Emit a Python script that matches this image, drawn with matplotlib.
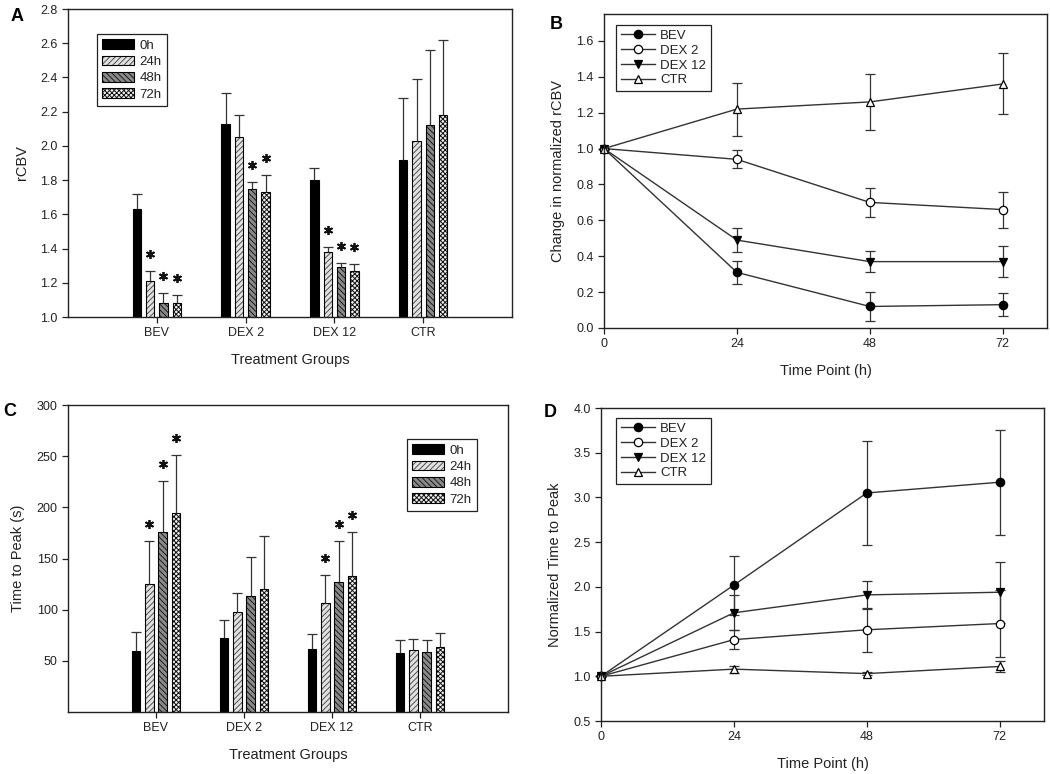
import matplotlib
matplotlib.use("Agg")
import matplotlib.pyplot as plt
from matplotlib.patches import Patch
from matplotlib.lines import Line2D
import numpy as np

plt.rcParams["font.family"] = ["Liberation Sans", "DejaVu Sans"]
plt.rcParams["hatch.linewidth"] = 0.7
plt.rcParams["axes.linewidth"] = 1.0

groups = ["BEV", "DEX 2", "DEX 12", "CTR"]
times = ["0h", "24h", "48h", "72h"]
hours = [0, 24, 48, 72]

# Panel A - rCBV (bar + upper error)
rcbv_0h = [1.63, 2.13, 1.80, 1.92]
rcbv_24h = [1.21, 2.05, 1.38, 2.03]
rcbv_48h = [1.08, 1.75, 1.29, 2.12]
rcbv_72h = [1.08, 1.73, 1.27, 2.18]
rcbv_err_0h = [0.09, 0.18, 0.07, 0.36]
rcbv_err_24h = [0.06, 0.13, 0.03, 0.36]
rcbv_err_48h = [0.06, 0.04, 0.025, 0.44]
rcbv_err_72h = [0.05, 0.10, 0.04, 0.44]
rcbv_sig_24h = [1, 0, 1, 0]
rcbv_sig_48h = [1, 1, 1, 0]
rcbv_sig_72h = [1, 1, 1, 0]

# Panel C - time to peak (s)
ttp_0h = [60, 72, 62, 58]
ttp_24h = [125, 98, 107, 61]
ttp_48h = [176, 113, 127, 59]
ttp_72h = [194, 120, 133, 64]
ttp_err_0h = [18, 18, 14, 12]
ttp_err_24h = [42, 18, 27, 10]
ttp_err_48h = [50, 38, 40, 11]
ttp_err_72h = [57, 52, 43, 13]
ttp_sig_24h = [1, 0, 1, 0]
ttp_sig_48h = [1, 0, 1, 0]
ttp_sig_72h = [1, 0, 1, 0]

# Panel B - change in normalized rCBV
b_bev = [1.0, 0.31, 0.12, 0.13]
b_dex2 = [1.0, 0.94, 0.70, 0.66]
b_dex12 = [1.0, 0.49, 0.37, 0.37]
b_ctr = [1.0, 1.22, 1.26, 1.36]
b_bev_err = [0, 0.066, 0.08, 0.065]
b_dex2_err = [0, 0.05, 0.08, 0.10]
b_dex12_err = [0, 0.067, 0.057, 0.087]
b_ctr_err = [0, 0.148, 0.158, 0.17]

# Panel D - normalized time to peak
d_bev = [1.0, 2.02, 3.05, 3.17]
d_dex2 = [1.0, 1.41, 1.52, 1.59]
d_dex12 = [1.0, 1.71, 1.91, 1.94]
d_ctr = [1.0, 1.08, 1.03, 1.11]
d_bev_err = [0, 0.33, 0.585, 0.587]
d_dex2_err = [0, 0.106, 0.245, 0.37]
d_dex12_err = [0, 0.196, 0.155, 0.34]
d_ctr_err = [0, 0.04, 0.02, 0.066]

TXT = "#222222"
W, H = 1050, 774

# bar styles: face, hatch colour, hatch
bar_styles = [
    ("black", "black", None),
    ("#e2e2e2", "#505050", "//////"),
    ("#8a8a8a", "#1a1a1a", "\\\\\\\\\\\\"),
    ("#f0f0f0", "#111111", "xxxxxxx"),
]

fig = plt.figure(figsize=(10.5, 7.74), dpi=100)


def fig_rect(l, t, r, b):
    return [l / W, 1 - b / H, (r - l) / W, (b - t) / H]


def style_axes(ax):
    ax.tick_params(direction="out", length=4, width=0.9, labelsize=9,
                   labelcolor=TXT, colors="#222222")
    for s in ax.spines.values():
        s.set_color("#222222")


def finish_legend(leg):
    leg.get_frame().set_linewidth(0.9)
    for t in leg.get_texts():
        t.set_color(TXT)


def bar_panel(ax, series, errs, sigs, ylim, yticks, ylabel, legend_at):
    x = np.arange(1, len(groups) + 1)
    offsets = [-0.225, -0.075, 0.075, 0.225]
    yr = ylim[1] - ylim[0]
    handles = []
    for i, (vals, err) in enumerate(zip(series, errs)):
        face, hcol, hatch = bar_styles[i]
        xs = x + offsets[i]
        vals = np.array(vals, dtype=float)
        err = np.array(err, dtype=float)
        ax.bar(xs, vals, 0.095, color=face, edgecolor=hcol, hatch=hatch, linewidth=0)
        ax.bar(xs, vals, 0.095, fill=False, edgecolor="black", linewidth=0.8)
        ax.vlines(xs, vals, vals + err, color="#333333", linewidth=0.9)
        ax.plot(xs, vals + err, ls="none", marker="_", markersize=7,
                markeredgewidth=0.9, color="#333333")
        if i > 0:
            flag = np.array(sigs[i - 1]) == 1
            ax.plot(xs[flag], (vals + err)[flag] + 0.056 * yr, ls="none",
                    marker=(6, 2, 0), markersize=6.5, markeredgewidth=1.3,
                    color="#111111")
        handles.append((Patch(facecolor=face, edgecolor=hcol, hatch=hatch, linewidth=0),
                        Patch(fill=False, edgecolor="black", linewidth=0.8)))
    ax.set_xlim(0, 5)
    ax.set_ylim(*ylim)
    ax.set_xticks(x)
    ax.set_xticklabels(groups)
    ax.set_yticks(yticks)
    ax.set_xlabel("Treatment Groups", fontsize=10.5, color=TXT, labelpad=10)
    ax.set_ylabel(ylabel, fontsize=10.5, color=TXT, labelpad=8)
    style_axes(ax)
    leg = ax.legend(handles, times, loc="upper left",
                    bbox_to_anchor=(legend_at[0] / W, 1 - legend_at[1] / H),
                    bbox_transform=fig.transFigure, borderaxespad=0,
                    fontsize=9.5, handlelength=2.4, handleheight=0.75,
                    labelspacing=0.3, handletextpad=0.4, borderpad=0.4,
                    fancybox=False, framealpha=1, edgecolor="#222222")
    finish_legend(leg)


def line_panel(ax, series, errs, ylim, yticks, ylabel, legend_at):
    markers = [("o", "black"), ("o", "white"), ("v", "black"), ("^", "white")]
    handles = []
    for (vals, err), (m, fc), name in zip(zip(series, errs), markers, groups):
        ax.errorbar(hours, vals, yerr=err, color="#333333", linewidth=1.0,
                    marker=m, markersize=6, markerfacecolor=fc,
                    markeredgecolor="black", markeredgewidth=0.9,
                    ecolor="#333333", elinewidth=0.9, capsize=3.5,
                    capthick=0.9, clip_on=False)
        handles.append(Line2D([], [], color="#333333", linewidth=1.0, marker=m,
                              markersize=6, markerfacecolor=fc,
                              markeredgecolor="black", markeredgewidth=0.9))
    ax.set_xlim(0, 80)
    ax.set_ylim(*ylim)
    ax.set_xticks(hours)
    ax.set_yticks(yticks)
    ax.set_xlabel("Time Point (h)", fontsize=10.5, color=TXT, labelpad=10)
    ax.set_ylabel(ylabel, fontsize=10.5, color=TXT, labelpad=8)
    style_axes(ax)
    leg = ax.legend(handles, groups, loc="upper left",
                    bbox_to_anchor=(legend_at[0] / W, 1 - legend_at[1] / H),
                    bbox_transform=fig.transFigure, borderaxespad=0,
                    fontsize=9.5, handlelength=2.6, labelspacing=0.2,
                    handletextpad=0.4, borderpad=0.35, fancybox=False,
                    framealpha=1, edgecolor="#222222")
    finish_legend(leg)


fmt1 = matplotlib.ticker.FormatStrFormatter("%.1f")

axA = fig.add_axes(fig_rect(68, 9, 512, 317))
bar_panel(axA, [rcbv_0h, rcbv_24h, rcbv_48h, rcbv_72h],
          [rcbv_err_0h, rcbv_err_24h, rcbv_err_48h, rcbv_err_72h],
          [rcbv_sig_24h, rcbv_sig_48h, rcbv_sig_72h],
          (1.0, 2.8), np.arange(1.0, 2.81, 0.2), "rCBV", (97, 34))
axA.yaxis.set_major_formatter(fmt1)

axB = fig.add_axes(fig_rect(604, 14, 1047, 328))
line_panel(axB, [b_bev, b_dex2, b_dex12, b_ctr],
           [b_bev_err, b_dex2_err, b_dex12_err, b_ctr_err],
           (0, 1.75), np.arange(0, 1.61, 0.2), "Change in normalized rCBV",
           (616, 25))
axB.yaxis.set_major_formatter(fmt1)

axC = fig.add_axes(fig_rect(68, 405, 508, 712))
bar_panel(axC, [ttp_0h, ttp_24h, ttp_48h, ttp_72h],
          [ttp_err_0h, ttp_err_24h, ttp_err_48h, ttp_err_72h],
          [ttp_sig_24h, ttp_sig_48h, ttp_sig_72h],
          (0, 300), np.arange(50, 301, 50), "Time to Peak (s)", (407, 439))

axD = fig.add_axes(fig_rect(601, 408, 1044, 721))
line_panel(axD, [d_bev, d_dex2, d_dex12, d_ctr],
           [d_bev_err, d_dex2_err, d_dex12_err, d_ctr_err],
           (0.5, 4.0), np.arange(0.5, 4.01, 0.5), "Normalized Time to Peak",
           (616, 418))
axD.yaxis.set_major_formatter(fmt1)

for letter, (px, py) in zip("ABCD", [(11, 21), (550, 29), (3, 416), (544, 417)]):
    fig.text(px / W, 1 - py / H, letter, fontsize=13, fontweight="bold",
             color="black", ha="left", va="baseline")

fig.savefig("out.png", dpi=100, facecolor="white")
